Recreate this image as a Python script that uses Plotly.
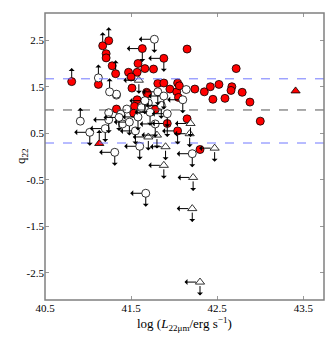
import plotly.graph_objects as go

# red circles, detections
red_x = [41.21, 41.21, 42.15, 41.28, 41.58, 41.47, 41.57, 41.50, 41.66, 41.76, 42.72, 41.12,
         41.51, 41.57, 41.68, 41.81, 41.88, 41.95, 42.04, 42.03, 42.05, 42.06, 42.24, 42.35,
         42.42, 42.52, 42.67, 42.66, 42.79, 42.45, 42.59, 42.88, 43.00, 42.15, 41.54, 41.33,
         41.53, 41.78, 41.69, 42.30]
red_y = [2.21, 2.12, 2.31, 1.95, 2.00, 1.81, 1.81, 1.71, 1.89, 1.88, 1.89, 1.55,
         1.47, 1.22, 1.38, 1.57, 1.58, 1.45, 1.58, 1.39, 1.27, 1.52, 1.45, 1.39,
         1.50, 1.55, 1.50, 1.42, 1.38, 1.23, 1.25, 1.17, 0.76, 0.81, 1.08, 1.02,
         0.93, 1.01, 1.35, 0.15]
# red circles, lower limits (up arrow)
red_up_x = [40.81, 41.17, 41.24, 41.32]
red_up_y = [1.61, 2.38, 2.49, 1.78]
# red circles, upper limits on both axes
red_lim_x = [41.63, 41.88, 41.92, 42.04]
red_lim_y = [2.32, 2.11, 0.71, 0.55]
# white circles, detections
wht_x = [41.33, 41.38, 42.14, 41.24, 41.33, 41.45, 41.40, 41.62, 41.70]
wht_y = [1.32, 0.91, 1.44, 0.94, 1.34, 1.02, 0.70, 1.05, 1.15]
# white circles, lower limits
wht_up_x = [41.12, 40.91, 41.25]
wht_up_y = [1.69, 0.76, 1.39]
# white circles, upper limits
wht_lim_x = [41.77, 41.81, 41.88, 42.10, 41.02, 41.31, 41.60, 42.21, 41.67, 41.24, 41.36,
             41.48, 41.58, 41.72, 41.85, 41.66, 41.78, 41.92, 41.20, 41.55]
wht_lim_y = [2.52, 1.39, 1.30, 1.22, 0.52, 0.09, 0.22, 0.06, -0.79, 0.79, 0.84,
             0.74, 0.85, 0.95, 1.10, 1.20, 0.70, 0.92, 0.60, 0.55]
# white triangles, upper limits
tri_lim_x = [41.59, 41.70, 41.80, 41.90, 42.19, 42.18, 42.47, 41.88, 42.22, 42.21, 42.30]
tri_lim_y = [1.64, 0.42, 0.46, 0.21, 0.71, 0.49, 0.18, -0.19, -0.45, -1.12, -2.70]
# red triangles
rtri_x = [43.41]
rtri_y = [1.41]
rtri_up_x = [41.13]
rtri_up_y = [0.28]

fig = go.Figure()

def pts(x, y, sym, col):
    fig.add_trace(go.Scatter(x=x, y=y, mode='markers', showlegend=False,
                             marker=dict(symbol=sym, size=8, color=col,
                                         line=dict(color='black', width=0.8))))

def arrows(x, y, ax, ay):
    for xi, yi in zip(x, y):
        fig.add_annotation(x=xi, y=yi, ax=ax, ay=ay, text='', showarrow=True,
                           arrowside='start', arrowhead=2, arrowsize=0.7,
                           arrowwidth=1, arrowcolor='black', standoff=4)

pts(red_x, red_y, 'circle', 'red')
pts(red_up_x, red_up_y, 'circle', 'red')
pts(red_lim_x, red_lim_y, 'circle', 'red')
pts(wht_x, wht_y, 'circle', 'white')
pts(wht_up_x, wht_up_y, 'circle', 'white')
pts(wht_lim_x, wht_lim_y, 'circle', 'white')
pts(tri_lim_x, tri_lim_y, 'triangle-up', 'white')
pts(rtri_x, rtri_y, 'triangle-up', 'red')
pts(rtri_up_x, rtri_up_y, 'triangle-up', 'red')

# limit arrows
arrows(red_up_x + wht_up_x + rtri_up_x, red_up_y + wht_up_y + rtri_up_y, 0, -15)
lim_x = red_lim_x + wht_lim_x + tri_lim_x
lim_y = red_lim_y + wht_lim_y + tri_lim_y
arrows(lim_x, lim_y, -17, 0)
arrows(lim_x, lim_y, 0, 15)

# reference lines
fig.add_hline(y=1.67, line=dict(color='#7078ff', width=1, dash='dash'))
fig.add_hline(y=1.0, line=dict(color='#555555', width=1, dash='dash'))
fig.add_hline(y=0.29, line=dict(color='#7078ff', width=1, dash='dash'))

# frame
fig.add_shape(type='rect', xref='paper', yref='paper', x0=0, y0=0, x1=1, y1=1,
              line=dict(color='#808080', width=1.5))

# axis titles
fig.add_annotation(xref='paper', yref='paper', x=0.5, y=0, yshift=-24, yanchor='middle',
                   showarrow=False, font=dict(size=13),
                   text='log (<i>L</i><sub>22μm</sub>/erg s<sup>−1</sup>)')
fig.add_annotation(xref='paper', yref='paper', x=0, y=0.5, xshift=-34, textangle=-90,
                   showarrow=False, font=dict(size=13), text='q<sub>22</sub>')

fig.update_layout(width=329, height=337, plot_bgcolor='white', paper_bgcolor='white',
                  margin=dict(l=45, r=5, t=13, b=37),
                  font=dict(family='Liberation Serif', size=11, color='black'))
fig.update_xaxes(range=[40.5, 43.74], tickvals=[40.5, 41.5, 42.5, 43.5],
                 ticktext=['40.5', '41.5', '42.5', '43.5'],
                 showgrid=False, zeroline=False, showline=False, mirror='ticks',
                 ticks='inside', ticklen=4, tickcolor='#999999')
fig.update_yaxes(range=[-3.085, 3.085], tickvals=[-2.5, -1.5, -0.5, 0.5, 1.5, 2.5],
                 ticktext=['-2.5', '-1.5', '-0.5', '0.5', '1.5', '2.5'],
                 showgrid=False, zeroline=False, showline=False, mirror='ticks',
                 ticks='inside', ticklen=4, tickcolor='#999999')

fig.write_html('out.html', config={'displayModeBar': False},
               post_script="document.body.style.margin='0';")
